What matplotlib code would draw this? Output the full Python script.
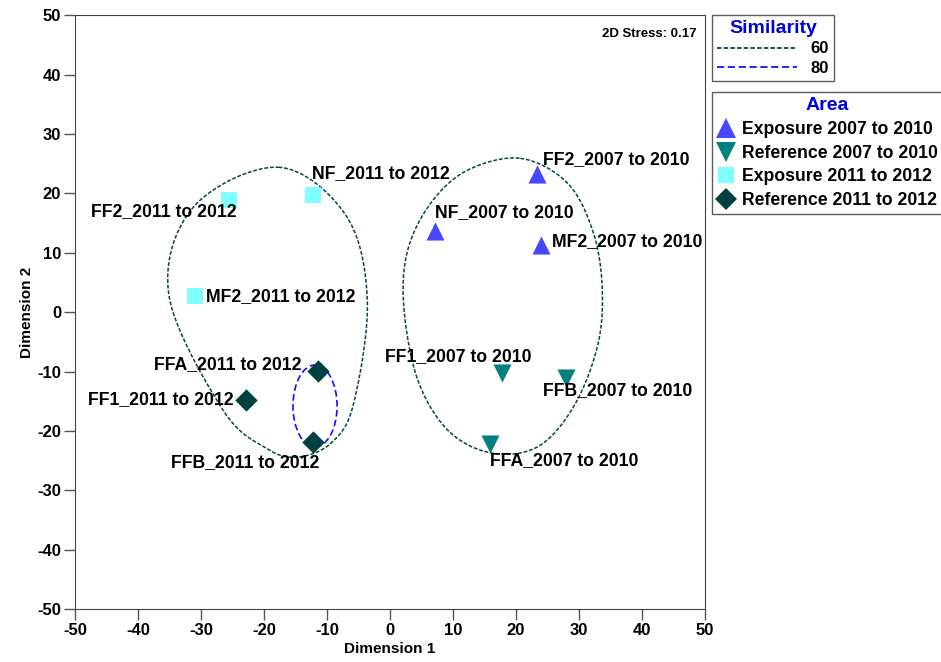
import numpy as np
import matplotlib
matplotlib.use("Agg")
import matplotlib.pyplot as plt
from matplotlib.lines import Line2D
from matplotlib.patches import Ellipse

plt.rcParams["font.family"] = ["Liberation Sans", "DejaVu Sans"]
plt.rcParams["axes.unicode_minus"] = False

# --- MDS ordination points ---
exp_0710_names = ["FF2_2007 to 2010", "NF_2007 to 2010", "MF2_2007 to 2010"]
exp_0710_x = [23.4, 7.1, 23.9]
exp_0710_y = [23.2, 13.6, 11.3]

ref_0710_names = ["FF1_2007 to 2010", "FFB_2007 to 2010", "FFA_2007 to 2010"]
ref_0710_x = [17.7, 28.0, 15.8]
ref_0710_y = [-10.3, -11.1, -22.2]

exp_1112_names = ["FF2_2011 to 2012", "NF_2011 to 2012", "MF2_2011 to 2012"]
exp_1112_x = [-25.6, -12.3, -31.0]
exp_1112_y = [18.9, 19.7, 2.7]

ref_1112_names = ["FFA_2011 to 2012", "FF1_2011 to 2012", "FFB_2011 to 2012"]
ref_1112_x = [-11.4, -22.8, -12.3]
ref_1112_y = [-9.9, -14.8, -21.9]

# --- similarity contours (boundary estimates) ---
left60_x = [-17.7, -7.0, -3.6, -5.8, -9.3, -14.6, -19.5, -26.5, -35.1, -31.2]
left60_y = [24.4, 16.3, 2.0, -15.5, -22.0, -24.4, -23.0, -16.5, 2.9, 17.7]
right60_x = [20.7, 28.2, 32.3, 33.7, 32.9, 29.1, 23.4, 16.0, 9.2, 4.4,
             2.2, 2.8, 6.5, 12.3]
right60_y = [25.9, 21.7, 13.3, 3.7, -5.9, -16.0, -22.7, -23.7, -19.9, -11.4,
             0.8, 10.4, 18.4, 23.9]
sim80_center = (-11.9, -15.8)
sim80_width = 7.0
sim80_height = 13.8

STRESS = 0.17
C60 = "#004848"
C80 = "#1010ff"
LS60 = (0, (2.5, 1.2))
LS80 = (0, (4, 2))


def closed_curve(xs, ys, n=40):
    """Periodic Catmull-Rom spline through the boundary points."""
    p = np.column_stack([xs, ys])
    m = len(p)
    out = []
    t = np.linspace(0, 1, n, endpoint=False)[:, None]
    for i in range(m):
        p0, p1, p2, p3 = p[i - 1], p[i], p[(i + 1) % m], p[(i + 2) % m]
        seg = 0.5 * ((2 * p1) + (-p0 + p2) * t + (2 * p0 - 5 * p1 + 4 * p2 - p3) * t ** 2
                     + (-p0 + 3 * p1 - 3 * p2 + p3) * t ** 3)
        out.append(seg)
    out = np.vstack(out)
    return np.vstack([out, out[:1]])


fig = plt.figure(figsize=(9.41, 6.62), dpi=100)
ax = fig.add_axes([0.0797, 0.080, 0.6695, 0.897])

for xs, ys in [(left60_x, left60_y), (right60_x, right60_y)]:
    c = closed_curve(xs, ys)
    ax.plot(c[:, 0], c[:, 1], color=C60, lw=1.1, ls=LS60, zorder=2)
ax.add_patch(Ellipse(sim80_center, sim80_width, sim80_height, fill=False,
                     ec=C80, lw=1.2, ls=LS80, zorder=2))

ax.scatter(exp_0710_x, exp_0710_y, marker="^", s=170, c="#4848ff", lw=0, zorder=3)
ax.scatter(ref_0710_x, ref_0710_y, marker="v", s=170, c="#008080", lw=0, zorder=3)
ax.scatter(exp_1112_x, exp_1112_y, marker="s", s=135, c="#80ffff", lw=0, zorder=3)
ax.scatter(ref_1112_x, ref_1112_y, marker="D", s=130, c="#004040", lw=0, zorder=3)

# label offsets in pixels (dx, dy, ha), text vertically centred
offsets = {
    "FF2_2007 to 2010": (6, 15, "left"),
    "NF_2007 to 2010": (0, 19, "left"),
    "MF2_2007 to 2010": (11, 3, "left"),
    "FF1_2007 to 2010": (30, 17, "right"),
    "FFB_2007 to 2010": (-23, -13, "left"),
    "FFA_2007 to 2010": (0, -17, "left"),
    "FF2_2011 to 2012": (8, -12, "right"),
    "NF_2011 to 2012": (-1, 22, "left"),
    "MF2_2011 to 2012": (11, 0, "left"),
    "FFA_2011 to 2012": (-17, 6, "right"),
    "FF1_2011 to 2012": (-13, 0, "right"),
    "FFB_2011 to 2012": (7, -20, "right"),
}
for names, xs, ys in [(exp_0710_names, exp_0710_x, exp_0710_y),
                      (ref_0710_names, ref_0710_x, ref_0710_y),
                      (exp_1112_names, exp_1112_x, exp_1112_y),
                      (ref_1112_names, ref_1112_x, ref_1112_y)]:
    for n, x, y in zip(names, xs, ys):
        dx, dy, ha = offsets[n]
        ax.annotate(n, (x, y), xytext=(dx, dy), textcoords="offset pixels",
                    ha=ha, va="center", fontsize=12.7, fontweight="bold", zorder=4)

ax.text(0.987, 0.978, f"2D Stress: {STRESS:.2f}", transform=ax.transAxes,
        ha="right", va="top", fontsize=9.5, fontweight="bold")

ax.set_xlim(-50, 50)
ax.set_ylim(-50, 50)
ax.set_xticks(np.arange(-50, 51, 10))
ax.set_yticks(np.arange(-50, 51, 10))
ax.tick_params(direction="out", length=8, width=1, labelsize=12, color="#555555", pad=2)
for t in ax.get_xticklabels() + ax.get_yticklabels():
    t.set_fontweight("bold")
for s in ax.spines.values():
    s.set_color("#444444")
ax.set_xlabel("Dimension 1", fontsize=11, fontweight="bold", labelpad=3)
ax.set_ylabel("Dimension 2", fontsize=11, fontweight="bold", labelpad=2)

# --- legends outside the axes ---
sim_handles = [Line2D([], [], color=C60, lw=1.3, ls=LS60),
               Line2D([], [], color=C80, lw=1.3, ls=LS80)]
leg1 = fig.legend(sim_handles, ["60", "80"], loc="upper left",
                  bbox_to_anchor=(0.7566, 0.977), title="Similarity",
                  handlelength=4.8, fancybox=False, edgecolor="#333333",
                  prop=dict(size=12, weight="bold"), borderaxespad=0,
                  handletextpad=0.8, labelspacing=0.25, borderpad=0.3)
leg1.get_title().set_color("#0000dd")
leg1.get_title().set_fontsize(14)
leg1.get_title().set_fontweight("bold")
leg1.get_frame().set_linewidth(1.0)

area_handles = [Line2D([], [], ls="", marker="^", ms=14, color="#4848ff", mew=0),
                Line2D([], [], ls="", marker="v", ms=14, color="#008080", mew=0),
                Line2D([], [], ls="", marker="s", ms=12, color="#80ffff", mew=0),
                Line2D([], [], ls="", marker="D", ms=11, color="#004040", mew=0)]
area_labels = ["Exposure 2007 to 2010", "Reference 2007 to 2010",
               "Exposure 2011 to 2012", "Reference 2011 to 2012"]
leg2 = fig.legend(area_handles, area_labels, loc="upper left",
                  bbox_to_anchor=(0.7566, 0.861), title="Area",
                  handlelength=1.0, fancybox=False, edgecolor="#333333",
                  prop=dict(size=12.7, weight="bold"), borderaxespad=0,
                  handletextpad=0.4, labelspacing=0.38, borderpad=0.3)
leg2.get_title().set_color("#0000dd")
leg2.get_title().set_fontsize(14)
leg2.get_title().set_fontweight("bold")
leg2.get_frame().set_linewidth(1.0)

fig.savefig("out.png", dpi=100)
